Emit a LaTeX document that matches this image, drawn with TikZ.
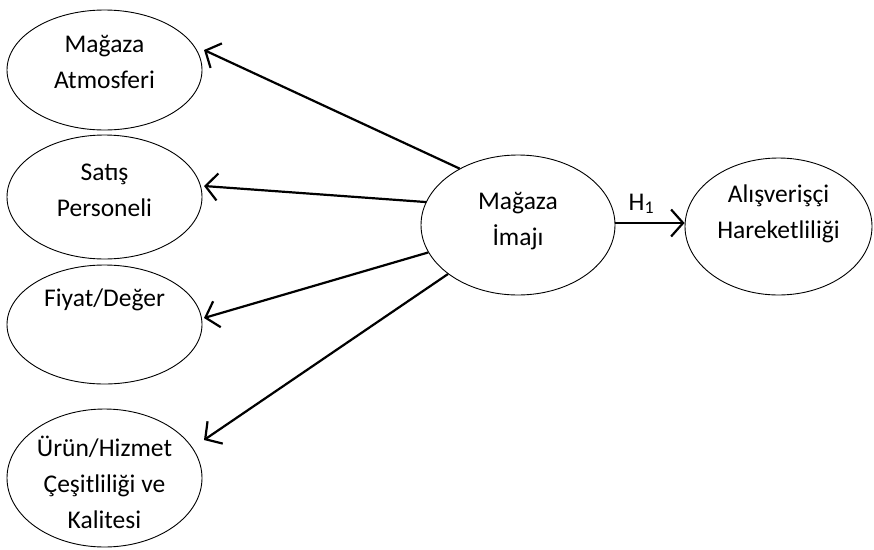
\documentclass[tikz,border=0pt]{standalone}
\usepackage{fontspec}
\setmainfont{Carlito}
\usetikzlibrary{shapes.geometric,arrows.meta}
\begin{document}
\begin{tikzpicture}[x=1pt,y=-1pt,
  oval/.style={draw, ellipse, line width=0.9pt, inner sep=0pt},
  lbl/.style={align=center, font=\fontsize{25.5}{36}\selectfont, inner sep=0pt},
  link/.style={line width=2.2pt, -{Straight Barb[length=12pt,width=27pt,line width=2.2pt]}}]
\useasboundingbox (0,0) rectangle (874,549);
% ellipses
\node[oval, minimum width=195pt, minimum height=120pt] (e1) at (104.5,70) {};
\node[oval, minimum width=195pt, minimum height=124pt] (e2) at (104.5,197) {};
\node[oval, minimum width=195pt, minimum height=119pt] (e3) at (104.5,324.5) {};
\node[oval, minimum width=195pt, minimum height=138pt] (e4) at (104.5,478) {};
\node[oval, minimum width=194pt, minimum height=140pt] (c) at (518,225) {};
\node[oval, minimum width=187pt, minimum height=137pt] (r) at (778.5,226.5) {};
% texts
\node[lbl] (t1) at (104.5,62) {Mağaza\\Atmosferi};
\node[lbl] (t2) at (104.5,190) {Satış\\Personeli};
\node[lbl] (t3) at (104.5,300) {Fiyat/Değer};
\node[lbl] (t4) at (104.5,482) {Ürün/Hizmet\\Çeşitliliği ve\\Kalitesi};
\node[lbl] (tc) at (518,221) {Mağaza\\İmajı};
\node[lbl] (tr) at (778.5,214) {Alışverişçi\\Hareketliliği};
% arrow tips
\coordinate (p1) at (204,50);
\coordinate (p2) at (204,186);
\coordinate (p3) at (204,318);
\coordinate (p4) at (204,440);
\draw[link] (c.136) -- (p1);
\draw[link] (c.166) -- (p2);
\draw[link] (c.197) -- (p3);
\draw[link] (c.215) -- (p4);
\coordinate (hs) at (615,223);
\draw[link] (hs) -- node[lbl, pos=0.38, above=8pt] (h1) {H\textsubscript{1}} (hs -| r.west);
\end{tikzpicture}
\end{document}
